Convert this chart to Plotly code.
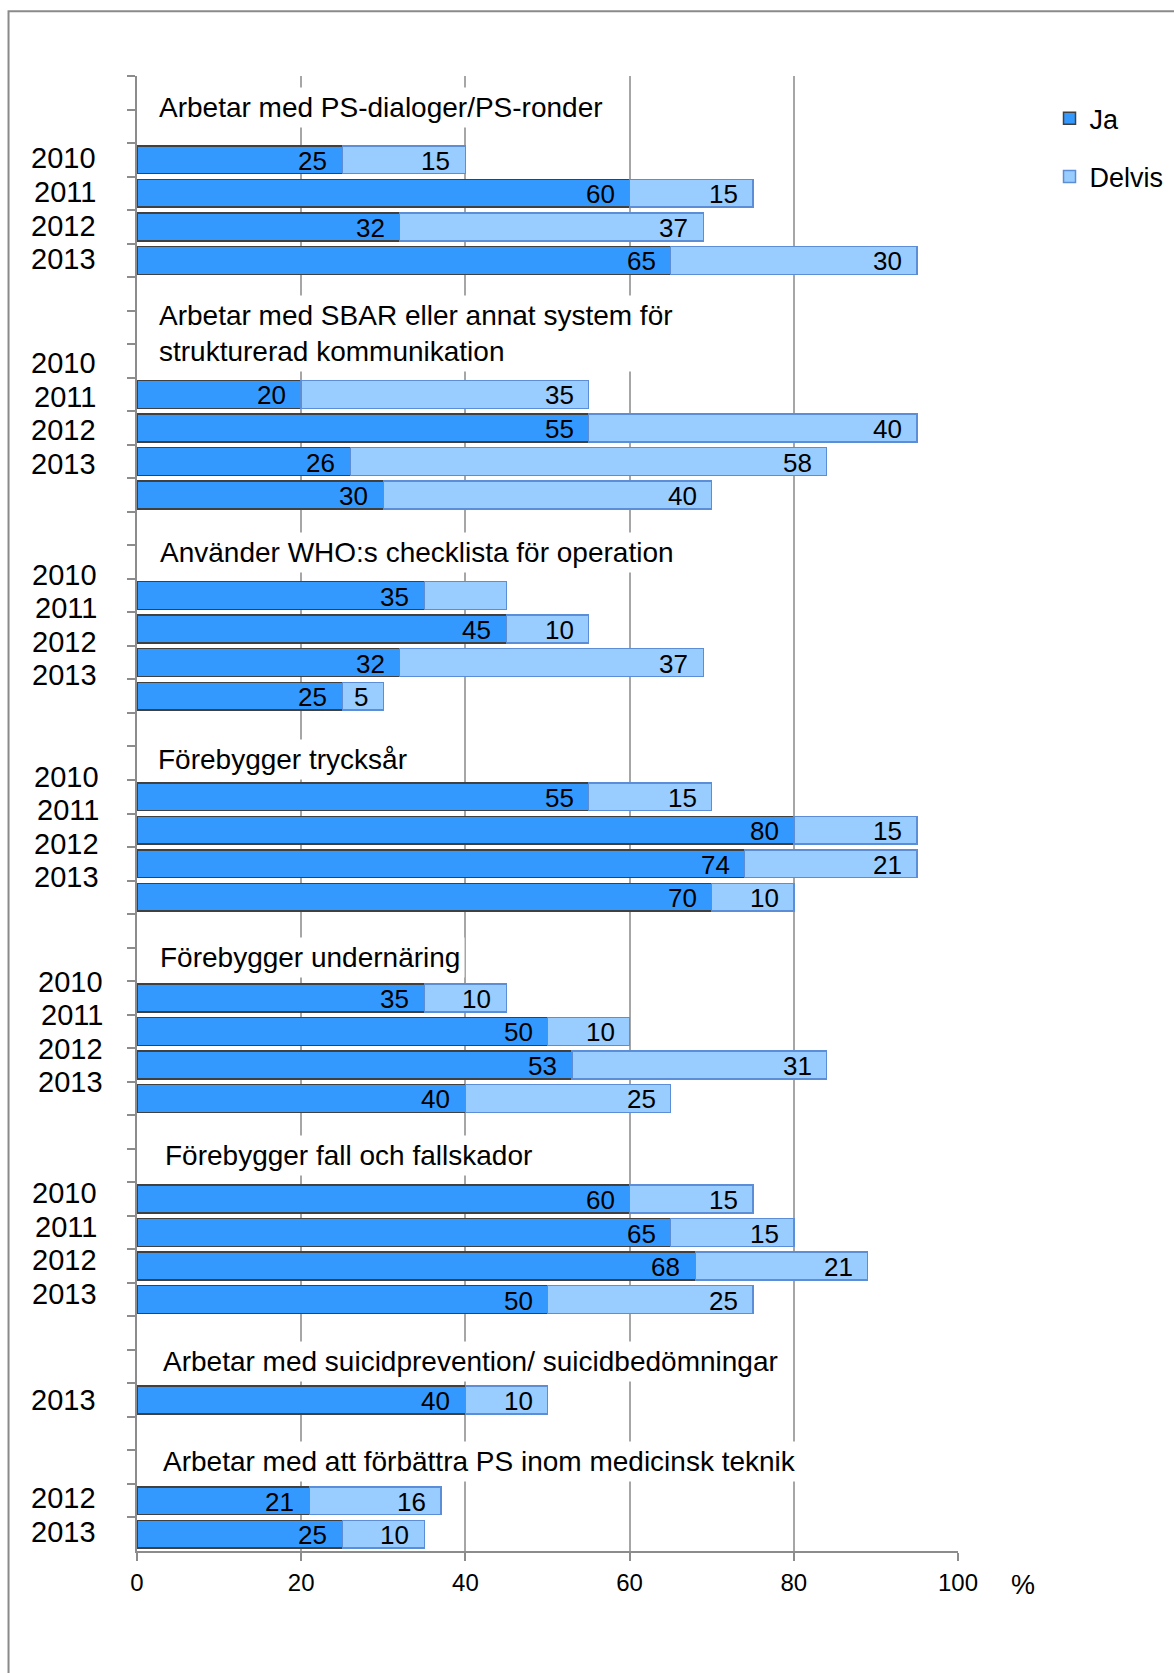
import plotly.graph_objects as go

# ---------------- data ----------------
group_titles = [
    "Arbetar med PS-dialoger/PS-ronder",
    "Arbetar med SBAR eller annat system för<br>strukturerad kommunikation",
    "Använder WHO:s checklista för operation",
    "Förebygger trycksår",
    "Förebygger undernäring",
    "Förebygger fall och fallskador",
    "Arbetar med suicidprevention/ suicidbedömningar",
    "Arbetar med att förbättra PS inom medicinsk teknik",
]
group_years = [
    ["2010", "2011", "2012", "2013"],
    ["2010", "2011", "2012", "2013"],
    ["2010", "2011", "2012", "2013"],
    ["2010", "2011", "2012", "2013"],
    ["2010", "2011", "2012", "2013"],
    ["2010", "2011", "2012", "2013"],
    ["2013"],
    ["2012", "2013"],
]
ja_values = [
    [25, 60, 32, 65],
    [20, 55, 26, 30],
    [35, 45, 32, 25],
    [55, 80, 74, 70],
    [35, 50, 53, 40],
    [60, 65, 68, 50],
    [40],
    [21, 25],
]
delvis_values = [
    [15, 15, 37, 30],
    [35, 40, 58, 40],
    [10, 10, 37, 5],
    [15, 15, 21, 10],
    [10, 10, 31, 25],
    [15, 15, 21, 25],
    [10],
    [16, 10],
]
# value labels not printed in the original (group index, bar index)
delvis_label_hidden = [(2, 0)]
series_names = ["Ja", "Delvis"]
x_ticks = [0, 20, 40, 60, 80, 100]

# ---------------- layout config ----------------
FONT = "Liberation Sans, Arial, sans-serif"
title_slots = [2, 3, 2, 2, 2, 2, 2, 2]
title_offset = [-1.575, -1.804, -1.29, -1.11, -1.21, -1.29, -1.14, -1.17]
title_left_px = [159, 159, 160, 158, 160, 165, 163, 163]
year_offset = [-0.04, -0.93, -0.62, -0.60, -0.48, -0.17, 0.0, -0.07]
year_right_px = [96, 96, 96.5, 98.5, 102.5, 97, 96, 96]

W, H = 1174, 1673
ML, MR, MT, MB = 136.6, 215.6, 75.7, 122

slots = []
bar_slot = []
for g in range(len(group_titles)):
    for k in range(title_slots[g]):
        slots.append(f"t{g}_{k}")
    idx = []
    for yr in group_years[g]:
        idx.append(len(slots))
        slots.append(f"g{g}_{yr}")
    bar_slot.append(idx)

y_keys, x_ja, x_del = [], [], []
for g in range(len(group_titles)):
    for i, yr in enumerate(group_years[g]):
        y_keys.append(f"g{g}_{yr}")
        x_ja.append(ja_values[g][i])
        x_del.append(delvis_values[g][i])

fig = go.Figure()
fig.add_trace(go.Bar(
    orientation="h", y=y_keys, x=x_ja, name=series_names[0],
    marker=dict(color="#3399FF", line=dict(color="#404040", width=1.5)),
    legendgroup="ja", hoverinfo="x+name",
))
fig.add_trace(go.Bar(
    orientation="h", y=y_keys, x=x_del, name=series_names[1],
    marker=dict(color="#99CCFF", line=dict(color="#5B8ED6", width=1.5)),
    legendgroup="delvis", hoverinfo="x+name",
))

ann = []
# group titles
for g, t in enumerate(group_titles):
    ann.append(dict(
        x=0, xref="x", y=bar_slot[g][0] + title_offset[g], yref="y",
        xanchor="left", yanchor="middle", xshift=title_left_px[g] - ML - 5,
        text=t, showarrow=False, align="left",
        font=dict(family=FONT, size=28, color="black"),
        bgcolor="white", borderpad=4,
    ))
# year labels
for g in range(len(group_titles)):
    for i, yr in enumerate(group_years[g]):
        ann.append(dict(
            x=0, xref="x", y=bar_slot[g][0] + year_offset[g] + i, yref="y",
            xanchor="right", yanchor="middle", xshift=year_right_px[g] - ML + 2,
            text=yr, showarrow=False,
            font=dict(family=FONT, size=29, color="black"),
        ))
# value labels
for g in range(len(group_titles)):
    for i in range(len(group_years[g])):
        s = bar_slot[g][i]
        a = ja_values[g][i]
        d = delvis_values[g][i]
        ann.append(dict(
            x=a, xref="x", y=s, yref="y", xanchor="right", yanchor="middle",
            xshift=-13, yshift=-1, text=str(a), showarrow=False,
            font=dict(family=FONT, size=26, color="black"),
        ))
        if (g, i) not in delvis_label_hidden:
            ann.append(dict(
                x=a + d, xref="x", y=s, yref="y", xanchor="right", yanchor="middle",
                xshift=-13, yshift=-1, text=str(d), showarrow=False,
                font=dict(family=FONT, size=26, color="black"),
            ))

pw = W - ML - MR
ph = H - MT - MB
def px2paperx(px):
    return (px - ML) / pw
def py2papery(py):
    return (H - MB - py) / ph

# percent sign
ann.append(dict(
    x=px2paperx(1023), xref="paper", y=py2papery(1585), yref="paper",
    xanchor="center", yanchor="middle", text="%", showarrow=False,
    font=dict(family=FONT, size=27, color="black"),
))

shapes = [dict(
    type="rect", xref="paper", yref="paper",
    x0=px2paperx(8), x1=px2paperx(1190), y0=py2papery(1690), y1=py2papery(11),
    line=dict(color="#8A8A8A", width=2), fillcolor="rgba(0,0,0,0)", layer="below",
)]

fig.update_layout(
    width=W, height=H,
    margin=dict(l=ML, r=MR, t=MT, b=MB, autoexpand=False),
    paper_bgcolor="white", plot_bgcolor="white",
    barmode="stack", bargap=0.17,
    font=dict(family=FONT, size=24, color="black"),
    annotations=ann, shapes=shapes,
    legend=dict(
        x=px2paperx(1050), y=py2papery(94), xref="paper", yref="paper",
        xanchor="left", yanchor="top",
        font=dict(family=FONT, size=27, color="black"),
        tracegroupgap=20, itemwidth=30, bgcolor="rgba(0,0,0,0)",
        traceorder="grouped",
    ),
    xaxis=dict(
        range=[0, 100], tickvals=x_ticks, ticktext=[str(v) for v in x_ticks],
        showgrid=True, gridcolor="#A6A6A6", gridwidth=2,
        showline=True, linecolor="#8C8C8C", linewidth=2,
        ticks="outside", ticklen=8, tickcolor="#8C8C8C", tickwidth=1.5,
        zeroline=False, ticklabelstandoff=1,
        tickfont=dict(family=FONT, size=24, color="black"),
        fixedrange=True,
    ),
    yaxis=dict(
        type="category", categoryorder="array", categoryarray=slots,
        range=[len(slots) - 0.5, -0.5],
        showticklabels=False, showgrid=False, zeroline=False,
        showline=True, linecolor="#8C8C8C", linewidth=2,
        ticks="outside", tickson="boundaries", ticklen=8,
        tickcolor="#8C8C8C", tickwidth=1.5,
        fixedrange=True,
    ),
)

fig.write_html("out.html")
